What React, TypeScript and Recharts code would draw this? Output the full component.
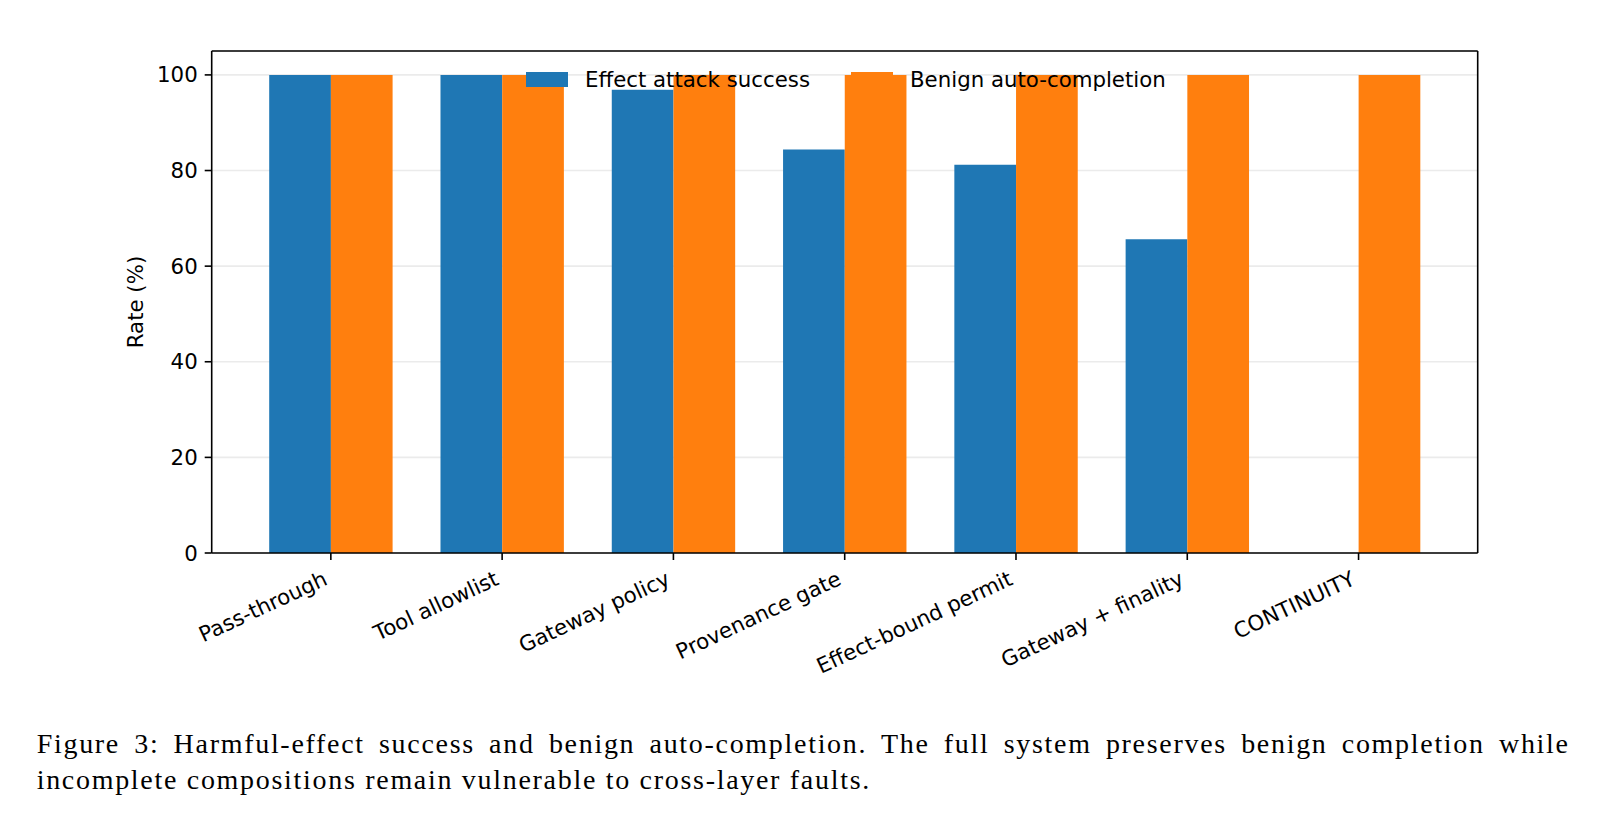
import React from 'react';
import { BarChart, Bar, XAxis, YAxis, CartesianGrid, Legend } from 'recharts';

const categories = [
  'Pass-through',
  'Tool allowlist',
  'Gateway policy',
  'Provenance gate',
  'Effect-bound permit',
  'Gateway + finality',
  'CONTINUITY',
];
const attackSuccess = [100, 100, 96.9, 84.4, 81.2, 65.6, 0];
const benignCompletion = [100, 100, 100, 100, 100, 100, 100];
const yTicks = [0, 20, 40, 60, 80, 100];
const seriesNames = ['Effect attack success', 'Benign auto-completion'];
const seriesColors = ['#1f77b4', '#ff7f0e'];

const data = categories.map((name, i) => ({
  name,
  attack: attackSuccess[i],
  benign: benignCompletion[i],
}));

const FONT = 'DejaVu Sans, sans-serif';
const FS = 21.3;

const XTick = (props: any) => {
  const { x, y, payload } = props;
  return (
    <g transform={`translate(${x - 2},${y + 24})`}>
      <text
        x={0}
        y={0}
        textAnchor="end"
        transform="rotate(-25)"
        fontFamily={FONT}
        fontSize={FS}
        fill="#000"
      >
        {payload.value}
      </text>
    </g>
  );
};

const LegendContent = () => (
  <div style={{ position: 'relative', width: 720, height: 30, fontFamily: FONT, fontSize: FS, color: '#000' }}>
    {seriesNames.map((n, i) => (
      <div
        key={n}
        style={{
          position: 'absolute',
          left: i === 0 ? 0 : 325,
          top: 0,
          height: 30,
          display: 'flex',
          alignItems: 'center',
          whiteSpace: 'nowrap',
        }}
      >
        <span style={{ display: 'inline-block', width: 42, height: 15, background: seriesColors[i], marginRight: 17 }} />
        <span>{n}</span>
      </div>
    ))}
  </div>
);

export default function App() {
  return (
    <div style={{ position: 'relative', width: 1607, height: 814, background: '#fff' }}>
      <style>{`body{margin:0;background:#fff;}`}</style>
      <div style={{ position: 'absolute', left: 0, top: 0 }}>
        <BarChart
          width={1607}
          height={700}
          data={data}
          margin={{ top: 50, right: 128.3, bottom: 0, left: 0 }}
          barGap={0}
          barSize={61.7}
        >
          <XAxis
            dataKey="name"
            interval={0}
            padding={{ left: 33.5, right: 33.5 }}
            height={147}
            tickSize={7}
            tickMargin={0}
            axisLine={{ stroke: '#000', strokeWidth: 1.6 }}
            tickLine={{ stroke: '#000', strokeWidth: 1.6 }}
            tick={<XTick />}
          />
          <XAxis
            xAxisId="top"
            dataKey="name"
            orientation="top"
            height={1}
            tick={false}
            tickLine={false}
            padding={{ left: 33.5, right: 33.5 }}
            axisLine={{ stroke: '#000', strokeWidth: 1.6 }}
          />
          <YAxis
            domain={[0, 105]}
            ticks={yTicks}
            width={211.7}
            tickSize={7}
            tickMargin={7}
            axisLine={{ stroke: '#000', strokeWidth: 1.6 }}
            tickLine={{ stroke: '#000', strokeWidth: 1.6 }}
            tick={{ fill: '#000', fontFamily: FONT, fontSize: FS }}
            label={{
              value: 'Rate (%)',
              angle: -90,
              position: 'center',
              dx: 30,
              style: { fill: '#000', fontFamily: FONT, fontSize: FS },
            }}
          />
          <YAxis
            yAxisId="right"
            orientation="right"
            domain={[0, 105]}
            width={1}
            tick={false}
            tickLine={false}
            axisLine={{ stroke: '#000', strokeWidth: 1.6 }}
          />
          <Bar dataKey="attack" name={seriesNames[0]} fill={seriesColors[0]} isAnimationActive={false} />
          <Bar dataKey="benign" name={seriesNames[1]} fill={seriesColors[1]} isAnimationActive={false} />
          <CartesianGrid vertical={false} stroke="#b0b0b0" strokeOpacity={0.25} strokeWidth={1.6} />
          <Legend
            layout="horizontal"
            verticalAlign="middle"
            align="center"
            content={<LegendContent />}
            wrapperStyle={{ left: 526, top: 64, width: 720, height: 30 }}
          />
        </BarChart>
      </div>
      <div
        style={{
          position: 'absolute',
          left: 36.7,
          top: 726,
          width: 1533,
          fontFamily: 'Liberation Serif, serif',
          fontSize: 28,
          lineHeight: '36px',
          letterSpacing: 1.7,
          color: '#000',
        }}
      >
        <div style={{ textAlign: 'justify', textAlignLast: 'justify', whiteSpace: 'nowrap' as any }}>
          Figure 3: Harmful-effect success and benign auto-completion. The full system preserves benign completion while
        </div>
        <div>incomplete compositions remain vulnerable to cross-layer faults.</div>
      </div>
    </div>
  );
}
